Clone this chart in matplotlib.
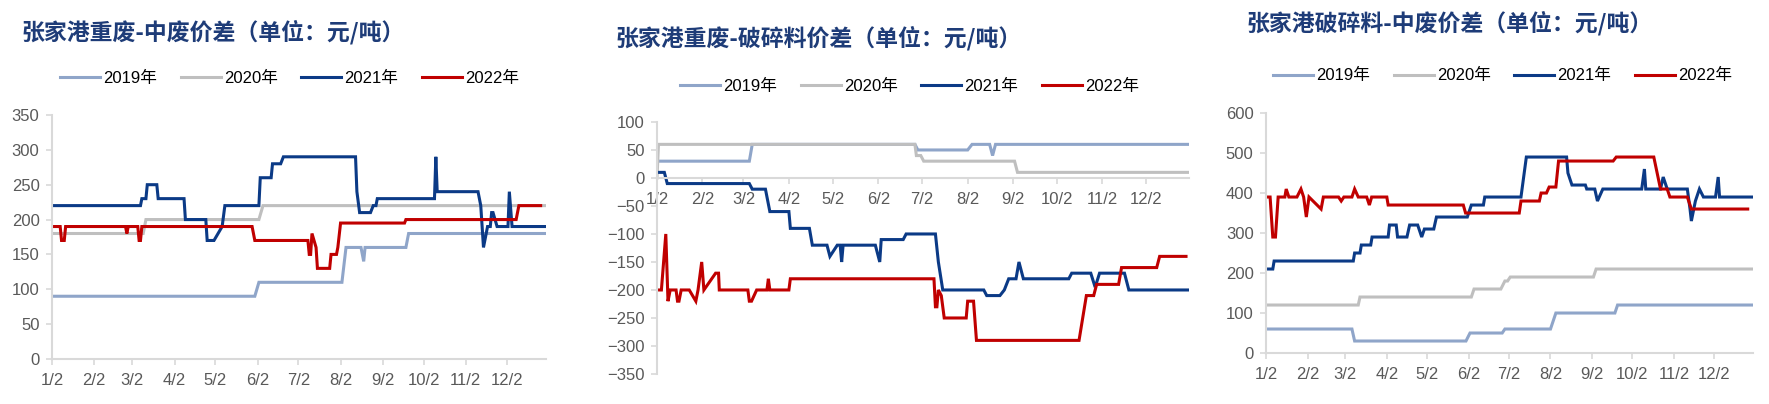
import matplotlib
matplotlib.use('Agg')
import matplotlib.pyplot as plt

# Tick positions (day index from Jan 2) and labels
month_days = [0, 31, 59, 90, 120, 151, 181, 212, 243, 273, 304, 334]
month_labels = ['1/2', '2/2', '3/2', '4/2', '5/2', '6/2', '7/2', '8/2', '9/2', '10/2', '11/2', '12/2']
years = ['2019年', '2020年', '2021年', '2022年']
colors = ['#8FA5C9', '#BFBFBF', '#0B3A86', '#C00000']

# Chart 1: heavy - medium scrap spread
hm_2019_x = [0, 149, 152, 213, 216, 227, 229, 230, 260, 262, 363]
hm_2019_y = [90, 90, 110, 110, 160, 160, 140, 160, 160, 180, 180]
hm_2020_x = [0, 67, 69, 152, 155, 363]
hm_2020_y = [180, 180, 200, 200, 220, 220]
hm_2021_x = [0, 65, 66, 69, 70, 77, 78, 97, 98, 113, 114, 119, 125, 127, 152, 153, 161, 162, 168, 170,
             223, 224, 226, 234, 236, 238, 239, 281, 282, 283, 313, 315, 316, 317, 320, 322, 323, 324,
             327, 335, 336, 338, 363]
hm_2021_y = [220, 220, 230, 230, 250, 250, 230, 230, 200, 200, 170, 170, 190, 220, 220, 260, 260, 280, 280, 290,
             290, 240, 210, 210, 220, 220, 230, 230, 290, 240, 240, 220, 190, 160, 190, 190, 210, 210,
             190, 190, 240, 190, 190]
hm_2022_x = [0, 6, 7, 9, 10, 54, 55, 56, 63, 64, 65, 66, 147, 149, 188, 189, 190, 191, 194, 195,
             204, 205, 209, 210, 212, 259, 260, 341, 343, 359]
hm_2022_y = [190, 190, 170, 170, 190, 190, 180, 190, 190, 170, 170, 190, 190, 170, 170, 150, 150, 180, 160, 130,
             130, 150, 150, 160, 195, 195, 200, 200, 220, 220]

# Chart 2: heavy - shredded spread
hs_2019_x = [0, 63, 65, 176, 178, 212, 215, 227, 229, 231, 363]
hs_2019_y = [30, 30, 60, 60, 50, 50, 60, 60, 40, 60, 60]
hs_2020_x = [0, 1, 176, 177, 180, 182, 244, 246, 363]
hs_2020_y = [0, 60, 60, 40, 40, 30, 30, 10, 10]
hs_2021_x = [0, 5, 7, 63, 65, 74, 77, 90, 91, 104, 106, 116, 118, 123, 125, 126, 127, 149, 152, 153,
             168, 170, 190, 192, 195, 223, 225, 234, 237, 240, 245, 247, 250, 281, 283, 296, 299, 302,
             319, 322, 363]
hs_2021_y = [10, 10, -10, -10, -20, -20, -60, -60, -90, -90, -120, -120, -140, -120, -120, -150, -120, -120, -150, -110,
             -110, -100, -100, -150, -200, -200, -210, -210, -200, -180, -180, -150, -180, -180, -170, -170, -195, -170,
             -170, -200, -200]
hs_2022_x = [0, 3, 6, 7.5, 9, 13, 14, 15, 16.5, 22, 26.5, 28, 30.5, 32, 40, 42, 42.5, 62, 63, 64.5,
             68, 75, 76, 77, 90, 91, 189, 190, 191, 192, 194, 196, 211, 212, 216, 218, 288, 293, 298, 300,
             315, 317, 341, 343, 361]
hs_2022_y = [-200, -200, -100, -220, -200, -200, -220, -220, -200, -200, -220, -200, -150, -200, -170, -170, -200, -200, -220, -220,
             -200, -200, -180, -200, -200, -180, -180, -230, -230, -200, -210, -250, -250, -220, -220, -290, -290, -210, -210, -190,
             -190, -160, -160, -140, -140]

# Chart 3: shredded - medium scrap spread
sm_2019_x = [0, 64, 66, 149, 152, 176, 178, 212, 214, 216, 260, 262, 363]
sm_2019_y = [60, 60, 30, 30, 50, 50, 60, 60, 80, 100, 100, 120, 120]
sm_2020_x = [0, 68.7, 70, 153, 155, 175, 178, 180, 182, 244, 246, 363]
sm_2020_y = [120, 120, 140, 140, 160, 160, 180, 180, 190, 190, 210, 210]
sm_2021_x = [0, 5, 6, 65, 66, 70, 71, 78, 79, 91, 92, 97, 98, 105, 107, 113, 116, 118, 125, 127,
             150, 153, 162, 163, 190, 192, 194, 224, 225, 228, 238, 239, 245, 247, 251, 280, 282, 283,
             294, 296, 299, 314, 316, 317, 320, 323, 326, 335, 337, 338, 363]
sm_2021_y = [210, 210, 230, 230, 250, 250, 270, 270, 290, 290, 320, 320, 290, 290, 320, 320, 290, 310, 310, 340,
             340, 370, 370, 390, 390, 440, 490, 490, 450, 420, 420, 410, 410, 380, 410, 410, 460, 410,
             410, 440, 410, 410, 360, 330, 380, 410, 390, 390, 440, 390, 390]
sm_2022_x = [0, 3, 5, 7, 9, 14, 15, 17, 23, 26, 28, 30, 32, 41, 42.7, 54, 56, 58, 64, 66,
             68.7, 75, 77, 78.7, 90, 91, 147, 148.7, 188.7, 190, 203.7, 205, 209, 211, 216, 218, 258.7, 261,
             289, 294, 299, 301, 314, 317, 359]
sm_2022_y = [390, 390, 290, 290, 390, 390, 410, 390, 390, 410, 390, 340, 390, 360, 390, 390, 380, 390, 390, 410,
             390, 390, 370, 390, 390, 370, 370, 350, 350, 380, 380, 400, 400, 415, 415, 480, 480, 490,
             490, 410, 410, 390, 390, 360, 360]

TITLE_COLOR = '#1E3C78'
TICK_COLOR = '#595959'
SPINE_COLOR = '#D9D9D9'
TEXT_FONT = ['Liberation Sans', 'Noto Sans CJK SC']

plt.rcParams['font.family'] = TEXT_FONT

fig = plt.figure(figsize=(17.69, 4.04), dpi=100)

charts = [
    {
        'title': '张家港重废-中废价差（单位：元/吨）',
        'rect': [0.0294, 0.1114, 0.2793, 0.604],
        'title_pos': (0.0119, 0.921),
        'legend_pos': (0.0339, 0.807),
        'series': [(hm_2019_x, hm_2019_y), (hm_2020_x, hm_2020_y), (hm_2021_x, hm_2021_y), (hm_2022_x, hm_2022_y)],
        'ylim': (0, 350),
        'yticks': list(range(0, 351, 50)),
        'zero_axis': False,
    },
    {
        'title': '张家港重废-破碎料价差（单位：元/吨）',
        'rect': [0.3714, 0.0743, 0.3007, 0.6238],
        'title_pos': (0.3482, 0.906),
        'legend_pos': (0.3844, 0.787),
        'series': [(hs_2019_x, hs_2019_y), (hs_2020_x, hs_2020_y), (hs_2021_x, hs_2021_y), (hs_2022_x, hs_2022_y)],
        'ylim': (-350, 100),
        'yticks': list(range(-350, 101, 50)),
        'zero_axis': True,
    },
    {
        'title': '张家港破碎料-中废价差（单位：元/吨）',
        'rect': [0.7157, 0.1262, 0.2753, 0.594],
        'title_pos': (0.7044, 0.943),
        'legend_pos': (0.7196, 0.812),
        'series': [(sm_2019_x, sm_2019_y), (sm_2020_x, sm_2020_y), (sm_2021_x, sm_2021_y), (sm_2022_x, sm_2022_y)],
        'ylim': (0, 600),
        'yticks': list(range(0, 601, 100)),
        'zero_axis': False,
    },
]

for c in charts:
    ax = fig.add_axes(c['rect'])
    handles = []
    for (xs, ys), color, name in zip(c['series'], colors, years):
        h, = ax.plot(xs, ys, color=color, lw=2.2, label=name, solid_joinstyle='miter')
        handles.append(h)
    ax.set_xlim(0, 363)
    ax.set_ylim(*c['ylim'])
    ax.set_yticks(c['yticks'])
    ax.set_yticklabels([str(v).replace('-', '\u2212') for v in c['yticks']])
    ax.set_xticks(month_days)
    ax.set_xticklabels(month_labels)
    for side in ['top', 'right']:
        ax.spines[side].set_visible(False)
    for side in ['left', 'bottom']:
        ax.spines[side].set_color(SPINE_COLOR)
        ax.spines[side].set_linewidth(1.5)
    if c['zero_axis']:
        ax.spines['bottom'].set_position(('data', 0))
    ax.tick_params(axis='both', colors=SPINE_COLOR, length=4, width=1.2, labelsize=12,
                   labelcolor=TICK_COLOR, pad=5)
    ax.tick_params(axis='x', pad=6)
    ax.patch.set_alpha(0)

    fig.text(c['title_pos'][0], c['title_pos'][1], c['title'], color=TITLE_COLOR, fontsize=16.5,
             fontweight='bold', va='center', ha='left', family=['Noto Sans CJK SC', 'DejaVu Sans'])
    fig.legend(handles=handles, loc='center left', bbox_to_anchor=c['legend_pos'], ncol=4,
               frameon=False, fontsize=12, handlelength=2.4, handletextpad=0.2, columnspacing=1.4,
               borderpad=0, borderaxespad=0)

fig.savefig('out.png', dpi=100)
